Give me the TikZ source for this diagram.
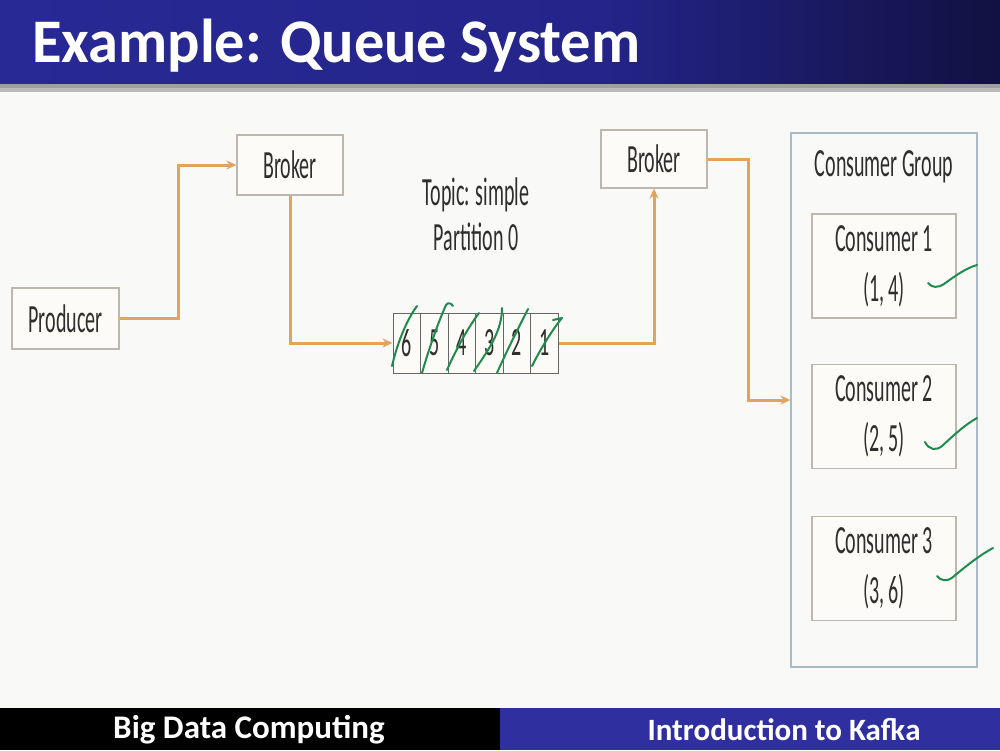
\documentclass[tikz,border=0pt]{standalone}
\usepackage{fontspec}
\setmainfont{Carlito}
\newfontfamily\dfont[FakeStretch=0.5]{Carlito}
\newfontfamily\hfont[FakeStretch=0.975]{Carlito}
\newfontfamily\ffont{Carlito}
\usetikzlibrary{arrows.meta}
\definecolor{tbA}{HTML}{2D2D9F}
\definecolor{tbB}{HTML}{24248A}
\definecolor{footblue}{HTML}{2F2F9F}
\definecolor{bgc}{HTML}{F9F9F7}
\definecolor{boxfill}{HTML}{FCFBF7}
\definecolor{boxdraw}{HTML}{BDB8AE}
\definecolor{txt}{HTML}{2E2E2E}
\definecolor{arrc}{HTML}{E2A35C}
\definecolor{chk}{HTML}{1F8B4C}
\definecolor{grpdraw}{HTML}{A9BCC4}
\pgfdeclarehorizontalshading{titlebar}{100bp}{color(0bp)=(tbA); color(55bp)=(tbB); color(93bp)=(black); color(100bp)=(black)}
\tikzset{
  dbox/.style={draw=boxdraw, line width=1.2pt, fill=boxfill, text=txt, inner sep=0pt,
    font=\dfont\fontsize{40}{50}\selectfont, align=center},
  cell/.style={draw=gray!80!black, line width=1pt, fill=boxfill, text=txt, inner sep=0pt,
    minimum width=27.5pt, minimum height=60pt, font=\dfont\fontsize{40}{40}\selectfont},
  arr/.style={draw=arrc, line width=3pt, -{Stealth[length=10pt,width=9pt]}},
  tick/.style={draw=chk, line width=2pt, line cap=round, line join=round}
}
\begin{document}
\begin{tikzpicture}[x=1pt,y=-1pt]
\useasboundingbox (0,0) rectangle (1000,750);
% background
\fill[bgc] (0,0) rectangle (1000,750);
% title bar
\shade[shading=titlebar] (0,0) rectangle (1000,84);
\fill[gray!75] (0,84) rectangle (1000,88);
\fill[gray!55] (0,88) rectangle (1000,92);
\node[anchor=base west, text=white, font=\hfont\bfseries\fontsize{62}{70}\selectfont, inner sep=0pt] (title) at (32,62) {Example: Queue System};
% footer
\fill[black] (0,708) rectangle (500,750);
\fill[footblue] (500,708) rectangle (1000,750);
\node[text=white, font=\ffont\bfseries\fontsize{33}{36}\selectfont, inner sep=0pt] (fl) at (249,730) {Big Data Computing};
\node[text=white, font=\ffont\bfseries\fontsize{31}{36}\selectfont, inner sep=0pt] (fr) at (784,730) {Introduction to Kafka};
% nodes
\node[dbox, minimum width=107pt, minimum height=61pt] (prod) at (65.5,318.5) {Producer};
\node[dbox, minimum width=106pt, minimum height=60pt] (b1) at (290,165) {Broker};
\node[dbox, minimum width=106pt, minimum height=58pt] (b2) at (654,159) {Broker};
\node[text=txt, align=center, font=\dfont\fontsize{40}{45}\selectfont, inner sep=0pt] (topic) at (476,214) {Topic: simple\\Partition 0};
\foreach \n [count=\i from 0] in {6,5,4,3,2,1} {
  \node[cell] (c\n) at ({406.75+27.5*\i},343) {\n};
}
\node[draw=grpdraw, line width=1.2pt, fill=bgc, minimum width=186pt, minimum height=534pt, inner sep=0pt] (grp) at (884,400) {};
\node[text=txt, font=\dfont\fontsize{40}{40}\selectfont, inner sep=0pt] (gl) at (884,167) {Consumer Group};
\node[dbox, minimum width=144pt, minimum height=104pt] (k1) at (884,266) {Consumer 1\\(1, 4)};
\node[dbox, minimum width=144pt, minimum height=104pt] (k2) at (884,416.5) {Consumer 2\\(2, 5)};
\node[dbox, minimum width=144pt, minimum height=104pt] (k3) at (884,568.5) {Consumer 3\\(3, 6)};
% connectors
\draw[arr] (prod.east) -- ++(59,0) |- (b1.west);
\draw[arr] (b1.south) |- (c6.west);
\draw[arr] (c1.east) -| (b2.south);
\draw[arr] (b2.east) -- ++(41,0) |- (grp.west);
% green ticks on cells
\draw[tick] (392,366) .. controls (398,340) and (408,318) .. (417,306);
\draw[tick] (422,373) .. controls (430,345) and (440,318) .. (446,305) .. controls (448,302) and (451,303) .. (453,306);
\draw[tick] (447,370) .. controls (458,345) and (470,325) .. (479,313);
\draw[tick] (474,371) .. controls (490,348) and (502,330) .. (502,308);
\draw[tick] (497,373) .. controls (508,348) and (520,325) .. (528,309);
\draw[tick] (532,366) .. controls (540,350) and (552,330) .. (562,318) -- (553,320);
% green ticks next to consumers
\draw[tick] (928,283) .. controls (932,288) and (938,288) .. (944,284) .. controls (955,276) and (966,268) .. (977,265);
\draw[tick] (925,442) .. controls (929,450) and (936,451) .. (942,446) .. controls (955,434) and (966,424) .. (977,418);
\draw[tick] (937,576) .. controls (941,581) and (947,582) .. (953,577) .. controls (966,566) and (980,555) .. (993,548);
\end{tikzpicture}
\end{document}
